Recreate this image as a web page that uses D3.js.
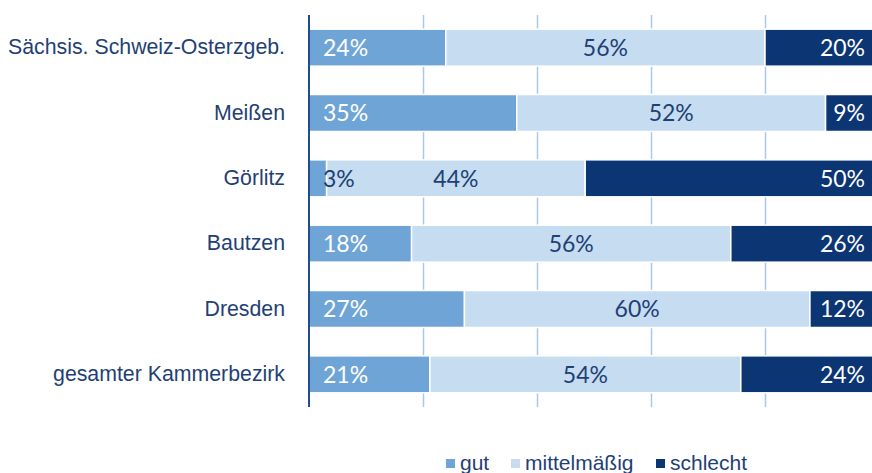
<!DOCTYPE html>
<html>
<head>
<meta charset="utf-8">
<script src="https://cdn.jsdelivr.net/npm/d3@7"></script>
<style>
  html, body { margin: 0; padding: 0; background: #fff; overflow: hidden; }
  svg { display: block; }
</style>
</head>
<body>
<svg id="chart" width="872" height="473"></svg>
<script>
const categories = ["Sächsis. Schweiz-Osterzgeb.", "Meißen", "Görlitz", "Bautzen", "Dresden", "gesamter Kammerbezirk"];
const seriesNames = ["gut", "mittelmäßig", "schlecht"];
const gut = [24, 35, 3, 18, 27, 21];
const mittel = [56, 52, 44, 56, 60, 54];
const schlecht = [20, 9, 50, 26, 12, 24];
const xTicks = [0, 0.2, 0.4, 0.6, 0.8, 1];

const colors = ["#6fa5d6", "#c5dcf1", "#0c3574"];
const labelColors = ["#ffffff", "#1f3f75", "#ffffff"];

const svg = d3.select("#chart");
const x = d3.scaleLinear().domain([0, 1]).range([309, 879]);
const y = d3.scaleBand().domain(categories).range([15, 407]).paddingInner(0.434).paddingOuter(0.217);

// gridlines
svg.append("g").selectAll("line").data(xTicks.slice(1)).join("line")
  .attr("x1", d => Math.round(x(d)) + 0.5).attr("x2", d => Math.round(x(d)) + 0.5)
  .attr("y1", 15).attr("y2", 407)
  .attr("stroke", "#a9c9e9").attr("stroke-width", 1.5);

const table = categories.map((c, i) => ({ cat: c, gut: gut[i], mittel: mittel[i], schlecht: schlecht[i] }));
const stack = d3.stack().keys(["gut", "mittel", "schlecht"]).offset(d3.stackOffsetExpand);
const series = stack(table);
const segs = [];
series.forEach((s, k) => s.forEach(d => segs.push({ cat: d.data.cat, k, v: d.data[s.key], x0: d[0], x1: d[1] })));

svg.append("g").selectAll("rect").data(segs).join("rect")
  .attr("x", d => x(d.x0))
  .attr("y", d => y(d.cat))
  .attr("width", d => x(d.x1) - x(d.x0))
  .attr("height", y.bandwidth())
  .attr("fill", d => colors[d.k])
  .attr("stroke", "#ffffff").attr("stroke-width", 1.5);

// value labels
svg.append("g").selectAll("text").data(segs).join("text")
  .attr("x", d => d.k === 0 ? x(d.x0) + 14 : d.k === 1 ? (x(d.x0) + x(d.x1)) / 2 : x(d.x1) - 14)
  .attr("y", d => y(d.cat) + y.bandwidth() / 2)
  .attr("dy", "0.36em")
  .attr("text-anchor", d => d.k === 0 ? "start" : d.k === 1 ? "middle" : "end")
  .attr("fill", d => (d.k === 0 && d.v < 5) ? "#1f3f75" : labelColors[d.k])
  .style("font-family", "Lato, 'Open Sans', sans-serif")
  .style("font-size", "23px")
  .text(d => d.v + "%");

// axis
const yAxis = d3.axisLeft(y).tickSize(0).tickPadding(24);
const ag = svg.append("g").attr("transform", "translate(309,0)").call(yAxis);
ag.select(".domain").attr("stroke", "#1f4e8f").attr("stroke-width", 2).attr("d", "M0,15V407");
ag.selectAll("text")
  .attr("fill", "#1f3f75")
  .style("font-family", "'Liberation Sans', Arial, sans-serif")
  .style("font-size", "21.3px");

// legend
const legendX = [446, 511, 656];
const lg = svg.append("g").selectAll("g").data(seriesNames).join("g")
  .attr("transform", (d, i) => `translate(${legendX[i]},0)`);
lg.append("rect").attr("x", 0).attr("y", 459).attr("width", 9).attr("height", 9)
  .attr("fill", (d, i) => colors[i]);
lg.append("text").attr("x", 14).attr("y", 470)
  .attr("fill", "#1f3f75")
  .style("font-family", "'Liberation Sans', Arial, sans-serif")
  .style("font-size", "21px")
  .text(d => d);
</script>
</body>
</html>
